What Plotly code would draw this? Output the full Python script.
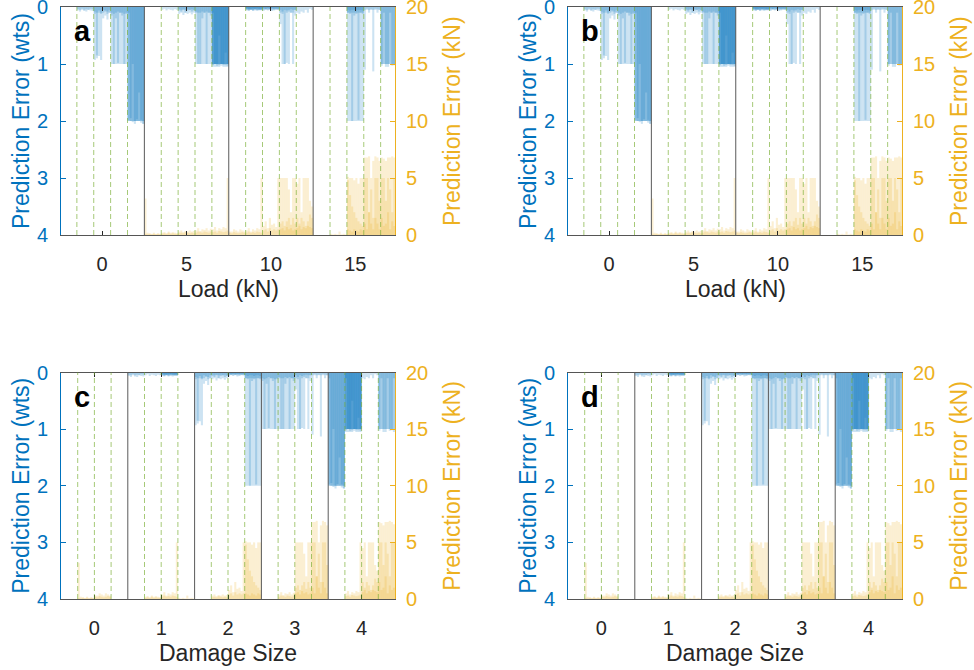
import plotly.graph_objects as go

# ---------------- data ----------------
loads = [0, 5, 10, 15]
damage_sizes = [0, 1, 2, 3, 4]
load_tick_labels = ["0", "5", "10", "15"]
damage_tick_labels = ["0", "1", "2", "3", "4"]
wts_ticks = [0, 1, 2, 3, 4]
kN_ticks = [0, 5, 10, 15, 20]

# prediction error (wts) per load, per damage size: list of repeated trials, 8 samples each
wts_L0 = [
    [],
    [[0.06, 0.08, 0.05, 0.07, 0.08, 0.05, 0.06, 0.07],
     [0.04, 0.05, 0.03, 0.05, 0.04, 0.05, 0.03, 0.04]],
    [[0.93, 0.90, 0.86, 0.93, 0.20, 0.15, 0.22, 0.10],
     [0.12, 0.85, 0.10, 0.12, 0.10, 0.08, 0.12, 0.10],
     [0.08, 0.10, 0.06, 0.10, 0.05, 0.06, 0.08, 0.05]],
    [[1.00, 1.00, 1.00, 0.98, 1.00, 1.00, 1.00, 1.00],
     [0.15, 1.00, 0.20, 1.00, 0.10, 0.15, 1.00, 0.12],
     [0.10, 0.12, 0.10, 0.08, 0.10, 0.10, 0.12, 0.10]],
    [[2.00, 2.00, 2.00, 2.00, 2.00, 2.00, 2.00, 2.00],
     [1.98, 2.00, 2.02, 2.00, 1.97, 2.00, 2.03, 2.05],
     [2.00, 1.95, 2.00, 2.05, 2.00, 2.00, 1.98, 2.00],
     [0.10, 2.00, 1.00, 2.00, 2.00, 1.50, 2.00, 2.05]],
]
wts_L5 = [
    [],
    [[0.05, 0.03, 0.06, 0.04, 0.05, 0.06, 0.04, 0.05]],
    [[0.12, 0.10, 0.14, 0.10, 0.12, 0.10, 0.13, 0.10],
     [0.06, 0.08, 0.05, 0.10, 0.06, 0.05, 0.08, 0.06],
     [0.04, 0.05, 0.04, 0.05, 0.04, 0.05, 0.04, 0.05]],
    [[1.00, 1.00, 1.00, 1.00, 1.00, 1.00, 1.00, 1.00],
     [0.10, 1.00, 1.00, 0.20, 0.10, 1.00, 0.10, 0.15],
     [0.08, 0.10, 0.10, 0.08, 0.10, 0.08, 0.10, 0.10]],
    [[1.00, 1.00, 1.00, 1.00, 1.00, 1.00, 1.00, 1.00],
     [1.02, 1.00, 1.05, 1.00, 1.03, 1.00, 1.05, 1.00],
     [1.00, 1.05, 1.00, 1.02, 1.00, 1.05, 1.00, 1.03],
     [1.05, 1.00, 1.00, 1.05, 1.00, 1.00, 1.02, 1.00],
     [1.00, 1.00, 1.03, 1.00, 1.00, 1.02, 1.00, 1.05],
     [0.10, 1.00, 1.00, 0.50, 1.00, 1.00, 0.80, 1.00]],
]
wts_L10 = [
    [],
    [[0.06, 0.07, 0.05, 0.07, 0.06, 0.07, 0.05, 0.06],
     [0.05, 0.06, 0.05, 0.06, 0.05, 0.05, 0.06, 0.05],
     [0.04, 0.05, 0.04, 0.05, 0.04, 0.05, 0.04, 0.05],
     [0.03, 0.04, 0.05, 0.04, 0.03, 0.04, 0.05, 0.04],
     [0.02, 0.03, 0.03, 0.02, 0.03, 0.02, 0.03, 0.03]],
    [[0.07, 0.05, 0.06, 0.05, 0.07, 0.06, 0.05, 0.05],
     [0.05, 0.04, 0.05, 0.04, 0.05, 0.05, 0.04, 0.05],
     [0.03, 0.04, 0.03, 0.04, 0.03, 0.03, 0.04, 0.03],
     [0.02, 0.03, 0.02, 0.03, 0.02, 0.03, 0.02, 0.03]],
    [[0.30, 1.00, 1.00, 0.98, 1.00, 0.10, 1.00, 0.15],
     [0.10, 0.12, 1.00, 0.10, 0.08, 0.10, 0.10, 0.05],
     [0.05, 0.08, 0.05, 0.06, 0.05, 0.04, 0.05, 0.05]],
    [[0.10, 0.12, 0.08, 0.10, 0.05, 0.10, 0.03, 0.05]],
]
wts_L15 = [
    [],
    [],
    [[2.00, 2.00, 2.00, 2.00, 2.00, 2.00, 2.00, 2.00],
     [0.10, 0.10, 2.00, 0.15, 0.10, 1.98, 0.10, 0.12],
     [0.10, 0.12, 0.10, 0.10, 0.12, 0.10, 0.10, 0.10],
     [0.05, 0.06, 0.05, 0.05, 0.06, 0.05, 0.05, 0.06]],
    [[1.10, 0.05, 0.10, 0.05, 1.13, 0.05, 0.10, 0.05],
     [0.05, 0.03, 0.05, 0.04, 0.05, 0.03, 0.04, 0.05]],
    [[1.00, 1.00, 1.00, 1.05, 1.00, 1.00, 1.02, 1.00],
     [1.03, 1.00, 1.05, 1.00, 1.00, 1.03, 1.00, 1.05],
     [1.00, 0.10, 1.00, 1.00, 0.10, 1.00, 1.00, 0.10]],
]

# prediction error (kN) per load, per damage size
kN_L0 = [[], [], [], [], []]
kN_L5 = [
    [[0.10, 0.20, 0.15, 0.10, 0.20, 0.10, 0.15, 0.10],
     [3.20, 0.05, 0.10, 0.05, 0.10, 0.05, 0.10, 0.05]],
    [[0.20, 0.25, 0.15, 0.30, 0.20, 0.25, 0.20, 0.15],
     [0.10, 0.15, 0.10, 0.20, 0.10, 0.15, 0.10, 0.10]],
    [[0.30, 0.40, 0.25, 0.35, 0.30, 0.40, 0.30, 0.35],
     [0.15, 0.20, 0.15, 0.25, 0.20, 0.15, 0.20, 0.15]],
    [[0.40, 0.60, 0.35, 0.50, 0.45, 0.60, 0.40, 0.55],
     [0.20, 0.30, 0.25, 0.20, 0.30, 0.25, 0.20, 0.30]],
    [[0.50, 0.70, 0.40, 0.60, 0.50, 0.70, 0.60, 5.00],
     [0.25, 0.30, 0.20, 0.35, 0.30, 0.25, 0.30, 0.40]],
]
kN_L10 = [
    [[0.30, 0.30, 0.50, 0.40, 0.30, 0.50, 0.40, 0.30],
     [0.20, 0.15, 0.25, 0.20, 0.15, 0.20, 0.25, 0.20]],
    [[0.40, 0.60, 0.30, 0.50, 0.40, 0.60, 0.50, 5.00],
     [0.20, 0.30, 0.20, 0.25, 0.20, 0.30, 0.25, 0.20]],
    [[0.80, 1.20, 0.60, 1.50, 0.90, 1.00, 0.70, 5.00],
     [0.40, 0.50, 0.30, 0.60, 0.40, 0.50, 0.40, 0.50]],
    [[5.00, 1.20, 5.00, 5.00, 1.50, 2.00, 5.00, 1.00],
     [1.00, 5.00, 0.80, 1.20, 4.00, 0.90, 1.50, 5.00],
     [0.50, 0.60, 0.40, 0.70, 0.50, 0.60, 0.40, 0.50]],
    [[1.50, 5.00, 2.00, 1.20, 5.00, 5.00, 1.80, 2.50],
     [4.50, 1.00, 1.50, 5.00, 0.80, 1.20, 3.00, 1.50],
     [0.60, 0.80, 0.50, 0.70, 0.60, 0.80, 0.70, 0.60]],
]
kN_L15 = [
    [],
    [[0.10, 0.05, 0.10, 0.05, 0.30, 0.05, 0.10, 0.05]],
    [[5.10, 5.00, 5.00, 4.80, 5.00, 4.50, 5.00, 5.00],
     [4.80, 3.50, 2.50, 2.00, 1.50, 1.20, 1.00, 0.80],
     [0.50, 0.40, 0.30, 0.50, 0.40, 0.30, 0.50, 0.40]],
    [[6.80, 5.00, 6.90, 4.00, 6.50, 5.00, 6.80, 3.00],
     [5.00, 6.80, 2.00, 5.00, 1.50, 6.90, 5.00, 6.50],
     [1.00, 0.50, 2.00, 1.00, 0.50, 1.50, 1.00, 0.50]],
    [[6.80, 5.00, 6.50, 6.80, 4.00, 6.90, 5.00, 6.60],
     [5.00, 6.70, 3.00, 5.00, 6.80, 2.00, 6.80, 5.00],
     [1.50, 0.80, 1.00, 2.00, 0.50, 1.20, 0.80, 1.00]],
]

wts_err = [wts_L0, wts_L5, wts_L10, wts_L15]
kN_err = [kN_L0, kN_L5, kN_L10, kN_L15]

# ---------------- styling / layout ----------------
W, H = 974, 670
BLUE = "#0072BD"
GOLD = "#EDB120"
DARK = "#262626"
FONT = "Liberation Sans, Arial, Helvetica, sans-serif"
BLUE_LAYER = "rgba(0,114,189,0.20)"
GOLD_LAYER = "rgba(237,177,32,0.20)"
TICK_SIZE = 20
TITLE_SIZE = 23

panels = [
    dict(letter="a", group="load", px=(61, 395), py=(7, 235)),
    dict(letter="b", group="load", px=(568, 902), py=(7, 235)),
    dict(letter="c", group="damage", px=(61, 395), py=(372.5, 599)),
    dict(letter="d", group="damage", px=(568, 902), py=(372.5, 599)),
]


def cell_span(li, di, group):
    if group == "load":
        step = loads[1] - loads[0]
        w = step / len(damage_sizes)
        return loads[li] - step / 2 + di * w, w
    step = damage_sizes[1] - damage_sizes[0]
    w = step / len(loads)
    return damage_sizes[di] - step / 2 + li * w, w


fig = go.Figure()
layout = dict(
    width=W, height=H, margin=dict(l=0, r=0, t=0, b=0, pad=0, autoexpand=False),
    paper_bgcolor="white", plot_bgcolor="white",
    barmode="overlay", showlegend=False, font=dict(family=FONT, color=DARK),
)
shapes = []
annotations = []

for i, p in enumerate(panels):
    xn = "x" if i == 0 else f"x{i + 1}"
    yl = "y" if i == 0 else f"y{2 * i + 1}"
    yr = f"y{2 * i + 2}"
    xkey = "xaxis" if i == 0 else f"xaxis{i + 1}"
    ylkey = "yaxis" if i == 0 else f"yaxis{2 * i + 1}"
    yrkey = f"yaxis{2 * i + 2}"

    for data, yax, col in ((wts_err, yl, BLUE_LAYER), (kN_err, yr, GOLD_LAYER)):
        ntr = max(len(c) for row in data for c in row)
        for t in range(ntr):
            xs, ys, ws = [], [], []
            for li in range(len(loads)):
                for di in range(len(damage_sizes)):
                    trials = data[li][di]
                    if t >= len(trials):
                        continue
                    vals = trials[t]
                    start, cw = cell_span(li, di, p["group"])
                    n = len(vals)
                    for k, v in enumerate(vals):
                        xs.append(start + (k + 0.5) * cw / n)
                        ys.append(v)
                        ws.append(cw / n)
            fig.add_trace(go.Bar(
                x=xs, y=ys, width=ws, xaxis=xn, yaxis=yax,
                marker=dict(color=col, line=dict(width=0)),
                hoverinfo="skip",
            ))

    x0d, x1d = p["px"][0] / W, p["px"][1] / W
    y0d, y1d = 1 - p["py"][1] / H, 1 - p["py"][0] / H
    if p["group"] == "load":
        xrange = [-2.44, 17.35]
        tickvals, ticktext, xtitle = loads, load_tick_labels, "Load (kN)"
        step = loads[1] - loads[0]
        centers = loads
        nsub = len(damage_sizes)
    else:
        xrange = [-0.5, 4.5]
        tickvals, ticktext, xtitle = damage_sizes, damage_tick_labels, "Damage Size"
        step = damage_sizes[1] - damage_sizes[0]
        centers = damage_sizes
        nsub = len(loads)

    layout[xkey] = dict(
        domain=[x0d, x1d], anchor=yl, range=xrange, tickvals=tickvals, ticktext=ticktext,
        ticks="inside", ticklen=4, tickcolor=DARK, mirror="ticks", showline=True,
        linecolor="#555555", linewidth=1, showgrid=False, zeroline=False,
        tickfont=dict(family=FONT, size=TICK_SIZE, color=DARK), ticklabelstandoff=11,
        ticklabeloverflow="allow",
    )
    layout[ylkey] = dict(
        domain=[y0d, y1d], anchor=xn, range=[4, 0], tickvals=wts_ticks,
        ticks="inside", ticklen=5, tickcolor=BLUE, showline=True, linecolor=BLUE,
        linewidth=1, showgrid=False, zeroline=False, side="left",
        tickfont=dict(family=FONT, size=TICK_SIZE, color=BLUE), ticklabelstandoff=8,
        ticklabeloverflow="allow",
    )
    layout[yrkey] = dict(
        domain=[y0d, y1d], anchor=xn, overlaying=yl, range=[0, 20], tickvals=kN_ticks,
        ticks="inside", ticklen=5, tickcolor=GOLD, showline=True, linecolor=GOLD,
        linewidth=1, showgrid=False, zeroline=False, side="right",
        tickfont=dict(family=FONT, size=TICK_SIZE, color=GOLD), ticklabelstandoff=6,
        ticklabeloverflow="allow",
    )

    # sub-group dividers (dashed green) and group dividers (dark)
    for g, c in enumerate(centers):
        left = c - step / 2
        for s in range(1, nsub):
            xv = left + s * step / nsub
            shapes.append(dict(type="line", xref=xn, yref=f"{yl} domain", x0=xv, x1=xv,
                               y0=0, y1=1, line=dict(color="rgba(119,172,48,0.65)",
                                                     width=1, dash="5px,3px")))
        if g > 0:
            shapes.append(dict(type="line", xref=xn, yref=f"{yl} domain", x0=left, x1=left,
                               y0=0, y1=1, line=dict(color="#5a5a5a", width=1)))

    # texts
    cy = (p["py"][0] + p["py"][1]) / 2
    cx = (p["px"][0] + p["px"][1]) / 2
    annotations.append(dict(text=f"<b>{p['letter']}</b>", xref="paper", yref="paper",
                            x=(p["px"][0] + 11) / W, y=1 - (p["py"][0] + 24) / H,
                            xanchor="left", yanchor="middle", showarrow=False,
                            font=dict(family=FONT, size=29, color="black")))
    annotations.append(dict(text="Prediction Error (wts)", xref="paper", yref="paper",
                            x=(p["px"][0] - 40) / W, y=1 - cy / H, textangle=-90,
                            xanchor="center", yanchor="middle", showarrow=False,
                            font=dict(family=FONT, size=TITLE_SIZE, color=BLUE)))
    annotations.append(dict(text="Prediction Error (kN)", xref="paper", yref="paper",
                            x=(p["px"][1] + 57) / W, y=1 - cy / H, textangle=-90,
                            xanchor="center", yanchor="middle", showarrow=False,
                            font=dict(family=FONT, size=TITLE_SIZE, color=GOLD)))
    annotations.append(dict(text=xtitle, xref="paper", yref="paper",
                            x=cx / W, y=1 - (p["py"][1] + 54) / H,
                            xanchor="center", yanchor="middle", showarrow=False,
                            font=dict(family=FONT, size=TITLE_SIZE, color=DARK)))

layout["shapes"] = shapes
layout["annotations"] = annotations
fig.update_layout(**layout)
fig.write_html("out.html", config={"displayModeBar": False},
               post_script="document.body.style.margin='0';document.body.style.padding='0';")
